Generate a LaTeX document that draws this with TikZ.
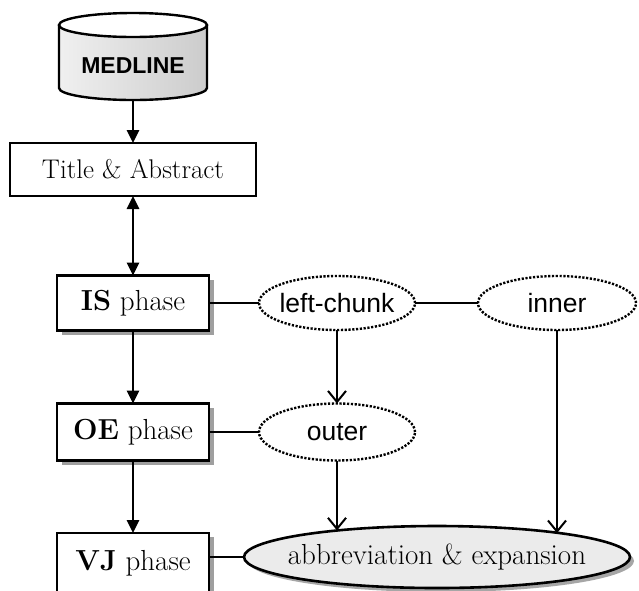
\documentclass[tikz,border=0pt]{standalone}
\usepackage{fontspec}
\newfontfamily\sansf{Liberation Sans}
\usetikzlibrary{arrows.meta,shapes.geometric,shadows}
\begin{document}
\begin{tikzpicture}[x=1pt,y=-1pt,
  serif/.style={font=\fontsize{27}{32}\selectfont},
  box/.style={draw, line width=2.6pt, rectangle, minimum width=152pt, minimum height=55pt,
    inner sep=0pt, outer sep=0pt, fill=white, serif},
  shbox/.style={box, font=\fontsize{29}{34}\selectfont,
    drop shadow={shadow xshift=5pt, shadow yshift=-4pt, fill=gray!75, opacity=1}},
  dotell/.style={ellipse, draw, line width=2.4pt, dash pattern=on 2.2pt off 1.6pt,
    minimum width=156pt, minimum height=54pt, inner sep=0pt, outer sep=0pt, fill=white,
    font=\sansf\fontsize{26.5}{31}\selectfont},
  mainarr/.style={line width=2.8pt, -{Triangle[width=12pt,length=13pt]}},
  veearr/.style={line width=2pt, -{Straight Barb[width=18pt,length=11pt,line width=2pt]}},
  link/.style={line width=1.8pt},
]
\useasboundingbox[fill=white] (0,0) rectangle (639,590);

% MEDLINE cylinder
\fill[left color=gray!12, right color=gray!40] (59,25) -- (59,88)
  arc[start angle=180, end angle=0, x radius=74, y radius=12] -- (207,25) -- cycle;
\draw[line width=2.4pt] (59,25) -- (59,88)
  arc[start angle=180, end angle=0, x radius=74, y radius=12] -- (207,25);
\draw[line width=2.4pt, fill=white] (133,25) ellipse [x radius=74, y radius=12];
\node[font=\sansf\bfseries\fontsize{23}{27}\selectfont] (med) at (133,66) {MEDLINE};
\coordinate (medbot) at (133,100);

% left column
\node[box, minimum width=246pt, minimum height=53pt] (title) at (133,169.5) {Title \& Abstract};
\node[shbox] (is) at (133,303) {\textbf{IS} phase};
\node[shbox, minimum height=57pt] (oe) at (133,432) {\textbf{OE} phase};
\node[shbox, minimum height=61pt] (vj) at (133,563.5) {\textbf{VJ} phase};

% ellipses
\node[dotell] (lc) at (337,303) {\makebox[0pt]{left-chunk}};
\node[dotell, minimum width=158pt] (inner) at (557,303) {\makebox[0pt]{inner}};
\node[dotell, minimum height=57pt] (outer) at (337,432) {\makebox[0pt]{outer}};
\node[ellipse, draw, line width=2.6pt, fill=gray!16, minimum width=386pt, minimum height=62pt,
  inner sep=0pt, outer sep=0pt, font=\fontsize{29}{34}\selectfont,
  drop shadow={shadow xshift=4pt, shadow yshift=-4pt, fill=gray!70, opacity=1}]
  (ab) at (437,557) {\makebox[0pt]{abbreviation \& expansion}};

% main column arrows
\draw[mainarr] (medbot) -- (title.north);
\draw[line width=2.8pt, {Triangle[width=12pt,length=13pt]}-{Triangle[width=12pt,length=13pt]}]
  (title.south) -- (is.north);
\draw[mainarr] (is.south) -- (oe.north);
\draw[mainarr] (oe.south) -- (vj.north);

% links
\draw[link] (is.east) -- (lc.west);
\draw[link] (lc.east) -- (inner.west);
\draw[link] (oe.east) -- (outer.west);
\draw[link] (vj.east |- ab.west) -- (ab.west);

% ellipse arrows
\draw[veearr] (lc.south) -- (outer.north);
\draw[veearr] (outer.south) -- (outer.south |- ab.165.15);
\draw[veearr] (inner.south) -- (inner.south |- ab.11.44);
\end{tikzpicture}
\end{document}
